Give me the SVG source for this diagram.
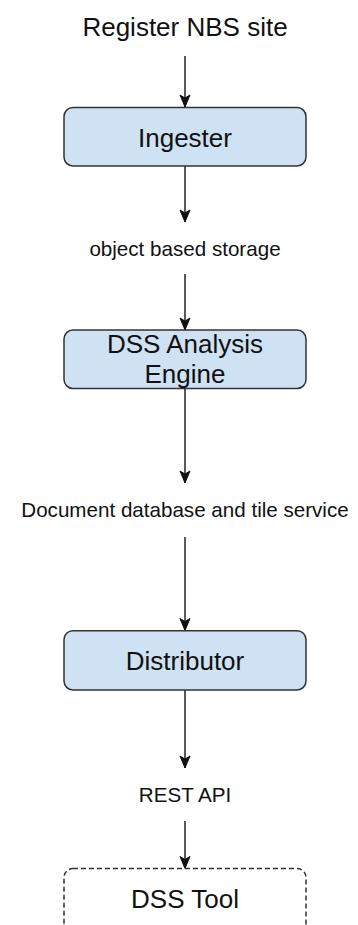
<svg xmlns="http://www.w3.org/2000/svg" width="358" height="925" viewBox="0 0 358 925">
  <style>
    .box { fill: #cfe2f3; stroke: #333333; stroke-width: 1.5; }
    .ghost { fill: #ffffff; stroke: #333333; stroke-width: 1.5; stroke-dasharray: 5 3; }
    .big { font-family: "Liberation Sans", Arial, sans-serif; font-size: 26px; fill: #111111; text-anchor: middle; }
    .small { font-family: "Liberation Sans", Arial, sans-serif; font-size: 20.6px; fill: #111111; text-anchor: middle; }
    .edge { stroke: #222222; stroke-width: 1.5; fill: none; marker-end: url(#head); }
  </style>
  <defs>
    <marker id="head" markerUnits="userSpaceOnUse" markerWidth="12" markerHeight="10" refX="12" refY="5" orient="auto" overflow="visible">
      <path d="M0,0 L12,5 L0,10 L3,5 Z" fill="#111111" stroke="#111111" stroke-width="1"/>
    </marker>
  </defs>
  <rect width="358" height="925" fill="#ffffff"/>

  <g id="connectors">
    <line class="edge" x1="185" y1="56" x2="185" y2="107"/>
    <line class="edge" x1="185" y1="166" x2="185" y2="222"/>
    <line class="edge" x1="185" y1="274" x2="185" y2="330"/>
    <line class="edge" x1="185" y1="388.5" x2="185" y2="483"/>
    <line class="edge" x1="185" y1="537" x2="185" y2="630.5"/>
    <line class="edge" x1="185" y1="690" x2="185" y2="768"/>
    <line class="edge" x1="185" y1="821" x2="185" y2="868.5"/>
  </g>

  <g id="register">
    <text class="big" x="185" y="36">Register NBS site</text>
  </g>

  <g id="ingester">
    <rect class="box" x="64" y="107.5" width="242" height="58.5" rx="9"/>
    <text class="big" x="185" y="146.5">Ingester</text>
  </g>

  <g id="object-storage">
    <text class="small" x="185" y="256">object based storage</text>
  </g>

  <g id="analysis-engine">
    <rect class="box" x="64" y="330" width="242" height="58.5" rx="9"/>
    <text class="big" x="185" y="353.3">DSS Analysis</text>
    <text class="big" x="185" y="382.7">Engine</text>
  </g>

  <g id="document-db">
    <text class="small" x="185" y="516.7">Document database and tile service</text>
  </g>

  <g id="distributor">
    <rect class="box" x="64" y="630.7" width="242" height="59.3" rx="9"/>
    <text class="big" x="185" y="670">Distributor</text>
  </g>

  <g id="rest-api">
    <text class="small" x="185" y="801.7">REST API</text>
  </g>

  <g id="dss-tool">
    <rect class="ghost" x="64" y="868.5" width="242" height="80" rx="9"/>
    <text class="big" x="185" y="907.7">DSS Tool</text>
  </g>
</svg>
